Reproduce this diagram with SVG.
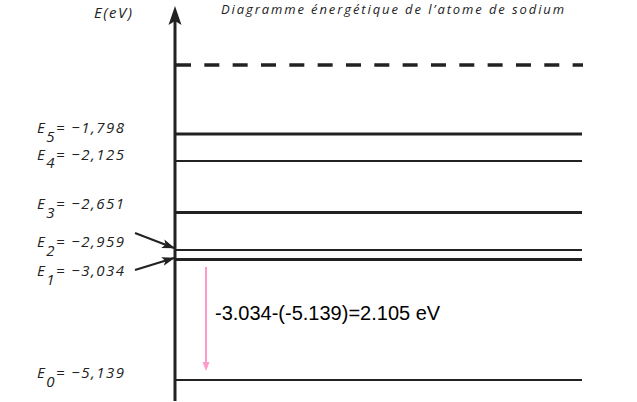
<svg xmlns="http://www.w3.org/2000/svg" width="637" height="402" viewBox="0 0 637 402">
<style>
.lbl{font-family:"Open Sans","Noto Sans",sans-serif;font-style:italic;font-size:15px;letter-spacing:1.5px;fill:#222}
.title{font-family:"Open Sans","Noto Sans",sans-serif;font-style:italic;font-size:13px;letter-spacing:1.9px;fill:#222}
.lvl{stroke:#222;fill:none}
.thick{stroke-width:3}
.thin{stroke-width:2}
.calc{font-family:"Liberation Sans",Arial,sans-serif;font-size:20px;fill:#000}
</style>
<defs>
<marker id="ah" markerWidth="13" markerHeight="10" refX="12" refY="5" orient="auto" markerUnits="userSpaceOnUse">
<path d="M0,0.5 L13,5 L0,9.5 L3,5 Z" fill="#222"/>
</marker>
</defs>
<rect width="637" height="402" fill="#fff"/>
<text class="title" x="221" y="14">Diagramme énergétique de l’atome de sodium</text>
<text class="lbl" x="94" y="18">E(eV)</text>
<g id="axis">
<line x1="175" y1="20" x2="175" y2="401" stroke="#222" stroke-width="3"/>
<path d="M175,6 L181.5,25 L175,21 L168.5,25 Z" fill="#222"/>
</g>
<g id="levels">
<line id="ionisation" class="lvl" x1="176" y1="65" x2="583" y2="65" stroke-width="3.5" stroke-dasharray="15 13.33"/>
<line id="E5" class="lvl thick" x1="175" y1="134" x2="582" y2="134"/>
<line id="E4" class="lvl thin" x1="175" y1="161" x2="582" y2="161"/>
<line id="E3" class="lvl thick" x1="175" y1="212.5" x2="582" y2="212.5"/>
<line id="E2" class="lvl thin" x1="175" y1="250" x2="582" y2="250"/>
<line id="E1" class="lvl thick" x1="175" y1="259.5" x2="582" y2="259.5"/>
<line id="E0" class="lvl thin" x1="175" y1="380" x2="582" y2="380"/>
</g>
<g id="labels">
<text class="lbl" x="37" y="133">E<tspan dy="9">5</tspan><tspan dy="-9">= −1,798</tspan></text>
<text class="lbl" x="37" y="160">E<tspan dy="8">4</tspan><tspan dy="-8">= −2,125</tspan></text>
<text class="lbl" x="37" y="209">E<tspan dy="9">3</tspan><tspan dy="-9">= −2,651</tspan></text>
<text class="lbl" x="37" y="247">E<tspan dy="9">2</tspan><tspan dy="-9">= −2,959</tspan></text>
<text class="lbl" x="37" y="276">E<tspan dy="9">1</tspan><tspan dy="-9">= −3,034</tspan></text>
<text class="lbl" x="37" y="378">E<tspan dy="9">0</tspan><tspan dy="-9">= −5,139</tspan></text>
</g>
<g id="connectors">
<line x1="135" y1="233" x2="174" y2="248" stroke="#222" stroke-width="2" marker-end="url(#ah)"/>
<line x1="135" y1="270" x2="174" y2="258" stroke="#222" stroke-width="2" marker-end="url(#ah)"/>
<line x1="206" y1="267" x2="206" y2="363" stroke="#ff99cc" stroke-width="2"/>
<path d="M202.5,362 L209.5,362 L206,371 Z" fill="#ff99cc"/>
</g>
<text class="calc" x="215" y="320">-3.034-(-5.139)=2.105 eV</text>
</svg>
